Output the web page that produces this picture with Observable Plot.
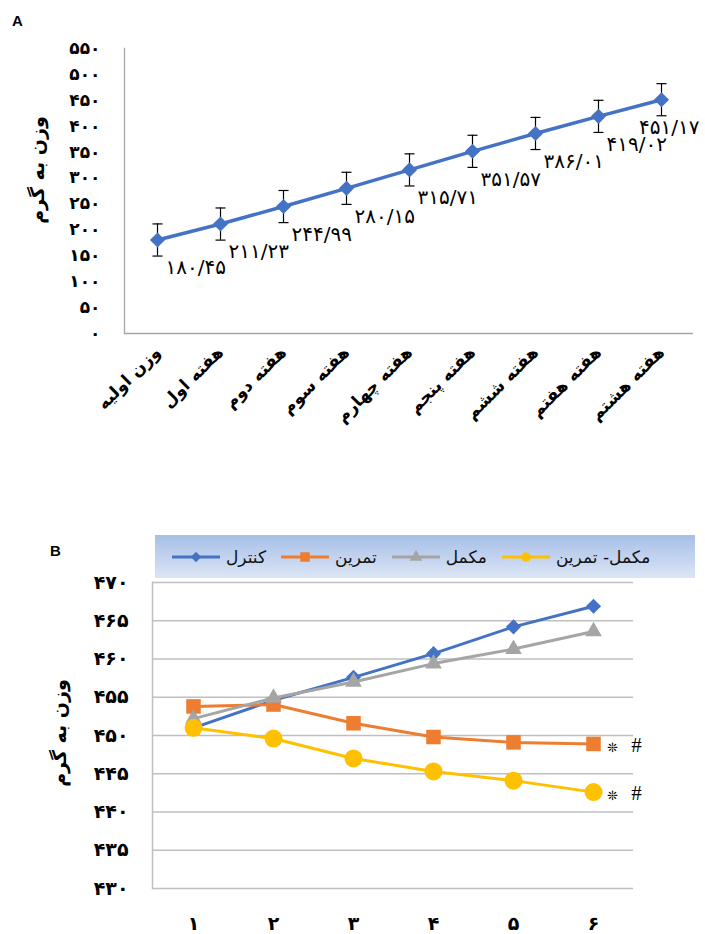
<!DOCTYPE html>
<html><head><meta charset="utf-8">
<script src="https://cdn.jsdelivr.net/npm/d3@7"></script>
<script src="https://cdn.jsdelivr.net/npm/@observablehq/plot@0.6"></script>
<style>
body{margin:0;background:#fff;}
#wrap{position:relative;width:705px;height:934px;overflow:hidden;font-family:"DejaVu Sans",sans-serif;background:#fff;}
.panel{position:absolute;font-family:"Liberation Sans",Arial,sans-serif;font-weight:bold;font-size:15px;color:#000;}
.ytitle{position:absolute;font-family:"DejaVu Sans",sans-serif;font-weight:bold;font-size:19px;color:#000;white-space:nowrap;transform:translate(-50%,-50%) rotate(-90deg);}
#legend{position:absolute;left:155px;top:535px;width:540px;height:43px;background:linear-gradient(#a6bfe8,#dce5f4);display:flex;align-items:center;padding-left:16px;box-sizing:border-box;}
.item{display:flex;align-items:center;margin-right:14px;}
.item span{font-family:"DejaVu Sans",sans-serif;font-weight:normal;font-size:17px;color:#111;margin-left:5px;}
svg.plot{position:absolute;left:0;}
</style></head><body><div id="wrap"></div>
<script>
// ---------- Data: chart A ----------
const weeksA = ["وزن اولیه","هفته اول","هفته دوم","هفته سوم","هفته چهارم","هفته پنجم","هفته ششم","هفته هفتم","هفته هشتم"];
const weightA = [180.45, 211.23, 244.99, 280.15, 315.71, 351.57, 386.01, 419.02, 451.17];
const errorA  = [31, 31, 31, 31, 31, 31, 31, 31, 31];
const ticksA  = [0, 50, 100, 150, 200, 250, 300, 350, 400, 450, 500, 550];

// ---------- Data: chart B ----------
const periodsB = [1, 2, 3, 4, 5, 6];
const seriesB = ["کنترل", "تمرین", "مکمل", "مکمل- تمرین"];
const controlB      = [451.0, 454.6, 457.6, 460.7, 464.2, 466.9];
const exerciseB     = [453.8, 454.05, 451.6, 449.8, 449.1, 448.9];
const supplementB   = [452.2, 454.9, 457.0, 459.4, 461.3, 463.6];
const suppExerciseB = [451.0, 449.6, 447.0, 445.3, 444.1, 442.6];
const ticksB = [430, 435, 440, 445, 450, 455, 460, 465, 470];
const signifSeries = ["تمرین", "مکمل- تمرین"];
const signifStar = "❊";
const signifHash = "#";

const colors = {"کنترل":"#4472c4","تمرین":"#ed7d31","مکمل":"#a5a5a5","مکمل- تمرین":"#ffc000"};
const symbols = {"کنترل":"diamond2","تمرین":"square","مکمل":"triangle","مکمل- تمرین":"circle"};
const radii = {"کنترل":6.8,"تمرین":8.2,"مکمل":6.2,"مکمل- تمرین":9};

const fa = s => String(s).replace(/[0-9]/g, d => "۰۱۲۳۴۵۶۷۸۹"[d]);
const faDec = v => fa(v.toFixed(2)).replace(".", "/");

const wrap = document.getElementById("wrap");

// ---------- Chart A ----------
const dataA = weeksA.map((w, i) => ({week: w, w: weightA[i], e: errorA[i], last: i === weeksA.length - 1}));
const capSymbol = {draw(ctx, size) { const r = Math.sqrt(size / Math.PI); ctx.moveTo(-r, 0); ctx.lineTo(r, 0); }};

const chartA = Plot.plot({
  width: 705, height: 480,
  marginLeft: 124, marginRight: 12, marginTop: 48, marginBottom: 147,
  style: {fontFamily: "DejaVu Sans, sans-serif", color: "#000", background: "transparent", overflow: "visible"},
  x: {type: "point", domain: weeksA, padding: 0.5},
  y: {domain: [0, 550]},
  marks: [
    Plot.frame({anchor: "left", stroke: "#a6a6a6", strokeWidth: 1.3}),
    Plot.ruleY([0], {stroke: "#a6a6a6", strokeWidth: 1.3}),
    Plot.line(dataA, {x: "week", y: "w", stroke: "#4472c4", strokeWidth: 3.5}),
    Plot.ruleX(dataA, {x: "week", y1: d => d.w - d.e, y2: d => d.w + d.e, stroke: "#000", strokeWidth: 1.2}),
    Plot.dot(dataA, {x: "week", y: d => d.w + d.e, symbol: capSymbol, r: 5, fill: "none", stroke: "#000", strokeWidth: 1.2}),
    Plot.dot(dataA, {x: "week", y: d => d.w - d.e, symbol: capSymbol, r: 5, fill: "none", stroke: "#000", strokeWidth: 1.2}),
    Plot.dot(dataA, {x: "week", y: "w", symbol: "diamond2", r: 6.8, fill: "#4472c4", stroke: "none"}),
    Plot.text(dataA.filter(d => !d.last), {x: "week", y: "w", text: d => faDec(d.w), textAnchor: "start", dx: 8, dy: 28, fontSize: 20, fill: "#000"}),
    Plot.text(dataA.filter(d => d.last), {x: "week", y: "w", text: d => faDec(d.w), textAnchor: "end", dx: 38, dy: 28, fontSize: 20, fill: "#000"}),
    Plot.axisY({ticks: ticksA, tickFormat: fa, tickSize: 0, tickPadding: 24, fontSize: 17, fontWeight: "bold", label: null}),
    Plot.axisX({tickSize: 0, tickPadding: 16, tickRotate: -45, fontSize: 17, fontWeight: "bold", label: null})
  ]
});
chartA.classList.add("plot");
chartA.style.top = "0px";
wrap.appendChild(chartA);

// ---------- Chart B ----------
const valuesB = [controlB, exerciseB, supplementB, suppExerciseB];
const dataB = seriesB.flatMap((s, k) => periodsB.map((p, i) => ({series: s, period: p, value: valuesB[k][i]})));
const lastB = dataB.filter(d => d.period === periodsB[periodsB.length - 1] && signifSeries.includes(d.series));

const marksB = [
  Plot.ruleY(ticksB, {stroke: "#bfbfbf", strokeWidth: 1.5}),
  Plot.frame({anchor: "left", stroke: "#bfbfbf", strokeWidth: 1.5})
];
for (const s of seriesB) {
  const d = dataB.filter(r => r.series === s);
  marksB.push(Plot.line(d, {x: "period", y: "value", stroke: colors[s], strokeWidth: 3}));
  marksB.push(Plot.dot(d, {x: "period", y: "value", symbol: symbols[s], r: radii[s], fill: colors[s], stroke: "none"}));
}
marksB.push(
  Plot.text(lastB, {x: "period", y: "value", text: () => signifStar, dx: 19, dy: 4, fontSize: 13, fill: "#000"}),
  Plot.text(lastB, {x: "period", y: "value", text: () => signifHash, dx: 43, dy: 1, fontSize: 21, fontFamily: "Liberation Serif, serif", fill: "#000"}),
  Plot.axisY({ticks: ticksB, tickFormat: fa, tickSize: 0, tickPadding: 24, fontSize: 19, fontWeight: "bold", label: null}),
  Plot.axisX({ticks: periodsB, tickFormat: fa, tickSize: 0, tickPadding: 28, fontSize: 19, fontWeight: "bold", label: null})
);

const chartB = Plot.plot({
  width: 705, height: 394,
  marginLeft: 152, marginRight: 72, marginTop: 42, marginBottom: 46,
  style: {fontFamily: "DejaVu Sans, sans-serif", color: "#000", background: "transparent", overflow: "visible"},
  x: {type: "point", domain: periodsB, padding: 0.5},
  y: {domain: [430, 470]},
  marks: marksB
});
chartB.classList.add("plot");
chartB.style.top = "540px";
wrap.appendChild(chartB);

// ---------- Titles, panel letters ----------
function addDiv(cls, text, left, top) {
  const el = document.createElement("div");
  el.className = cls; el.textContent = text;
  el.style.left = left + "px"; el.style.top = top + "px";
  wrap.appendChild(el);
}
addDiv("panel", "A", 12, 12);
addDiv("panel", "B", 50, 542);
addDiv("ytitle", "وزن به گرم", 37, 170);
addDiv("ytitle", "وزن به گرم", 59, 733);

// ---------- Legend B ----------
const legend = document.createElement("div");
legend.id = "legend";
for (const s of seriesB) {
  const item = document.createElement("div");
  item.className = "item";
  const sw = d3.create("svg").attr("width", 50).attr("height", 16);
  sw.append("line").attr("x1", 1).attr("x2", 49).attr("y1", 8).attr("y2", 8).attr("stroke", colors[s]).attr("stroke-width", 2.8);
  const symMap = {diamond2: d3.symbolDiamond2, square: d3.symbolSquare, triangle: d3.symbolTriangle, circle: d3.symbolCircle};
  sw.append("path").attr("transform", "translate(25,8)").attr("d", d3.symbol(symMap[symbols[s]], s === "تمرین" ? 90 : 70)()).attr("fill", colors[s]);
  item.appendChild(sw.node());
  const sp = document.createElement("span");
  sp.textContent = s;
  item.appendChild(sp);
  legend.appendChild(item);
}
wrap.appendChild(legend);
</script>
</body></html>
